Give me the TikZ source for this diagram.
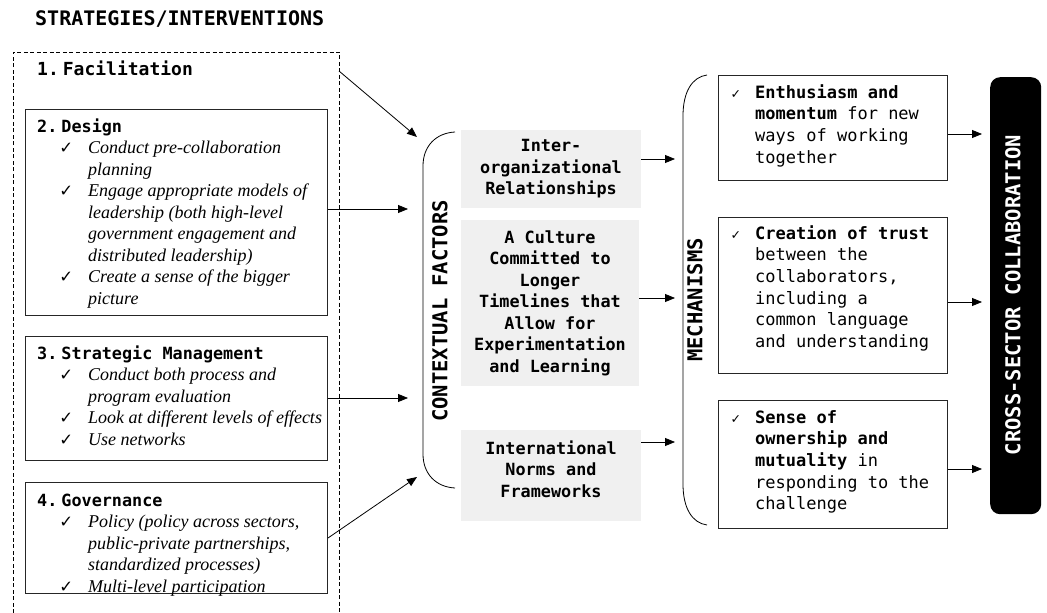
\documentclass[tikz,border=0pt]{standalone}
\usepackage{fontspec}
\setmainfont{Liberation Serif}
\newfontfamily\mono{DejaVu Sans Mono}
\newfontfamily\symf{DejaVu Sans}
\usetikzlibrary{arrows.meta}

% check marks
\newcommand\bigck{{\symf\fontsize{16.5}{16.5}\selectfont ✓}}
\newcommand\smallck{{\symf\fontsize{12.5}{12.5}\selectfont ✓}}
% headings and items in the strategy boxes
\newcommand\lhead[1]{{\mono\bfseries\fontsize{16.8}{21.5}\selectfont #1\par}}
\newcommand\litem[1]{{\fontsize{18}{21.5}\selectfont\leftskip=51pt\noindent\llap{\bigck\hspace{15pt}}\itshape #1\par}}

\tikzset{
  box/.style={draw=black!85, line width=1pt, inner sep=0pt},
  greybox/.style={fill=black!6, inner sep=0pt},
  txt/.style={inner sep=0pt, anchor=base west},
  monob/.style={font=\mono\bfseries\fontsize{16.8}{21.5}\selectfont, align=center, inner sep=0pt},
  vlabel/.style={rotate=90, inner sep=0pt, font=\mono\bfseries\fontsize{20.5}{20.5}\selectfont},
  arr/.style={line width=0.8pt, -{Triangle[length=10pt,width=8pt]}},
}

\begin{document}
\begin{tikzpicture}[x=1pt,y=-1pt]
\useasboundingbox (0,0) rectangle (1047,613);

% title
\node[txt, font=\mono\bfseries\fontsize{20}{20}\selectfont] (title) at (35,25) {STRATEGIES/INTERVENTIONS};

% dashed frame around the strategies
\draw[line width=0.8pt, dash pattern=on 4pt off 2.5pt] (13,613) -- (13,52) -- (339,52) -- (339,613);
\coordinate (facout) at (339,71);

% 1. Facilitation
\node[txt, font=\mono\bfseries\fontsize{18}{18}\selectfont] (fac) at (37,75) {1.\hspace{4pt}Facilitation};

% 2. Design
\node[box, minimum width=302pt, minimum height=206pt, anchor=north west] (design) at (25,109) {};
\node[txt] (designtxt) at (37,132) {\parbox[t]{285pt}{\raggedright\parskip=0pt
  \lhead{2.\hspace{4pt}Design}
  \litem{Conduct pre-collaboration\\planning}
  \litem{Engage appropriate models of\\leadership (both high-level\\government engagement and\\distributed leadership)}
  \litem{Create a sense of the bigger\\picture}}};

% 3. Strategic Management
\node[box, minimum width=302pt, minimum height=124pt, anchor=north west] (strat) at (25,336) {};
\node[txt] (strattxt) at (37,359) {\parbox[t]{285pt}{\raggedright\parskip=0pt
  \lhead{3.\hspace{4pt}Strategic Management}
  \litem{Conduct both process and\\program evaluation}
  \litem{Look at different levels of effects}
  \litem{Use networks}}};

% 4. Governance
\node[box, minimum width=302pt, minimum height=111pt, anchor=north west] (gov) at (25,482) {};
\node[txt] (govtxt) at (37,506) {\parbox[t]{285pt}{\raggedright\parskip=0pt
  \lhead{4.\hspace{4pt}Governance}
  \litem{Policy (policy across sectors,\\public-private partnerships,\\standardized processes)}
  \litem{Multi-level participation}}};

% contextual factors
\draw[line width=0.8pt] (455,132) .. controls (436,133) and (423,146) .. (423,166) -- (423,454) .. controls (423,474) and (436,487) .. (455,488);
\node[vlabel] (ctx) at (440,311) {CONTEXTUAL\hspace{12pt}FACTORS};
\coordinate (cf1) at (417,137);
\coordinate (cf2) at (408,209);
\coordinate (cf3) at (408,398);
\coordinate (cf4) at (417,477);

\node[greybox, minimum width=180pt, minimum height=78pt, anchor=north west] (inter) at (461,130) {};
\node[monob] (intertxt) at (551,169) {Inter-\\organizational\\Relationships};
\node[greybox, minimum width=178pt, minimum height=166pt, anchor=north west] (cult) at (461,220) {};
\node[monob] (culttxt) at (550,303) {A Culture\\Committed to\\Longer\\Timelines that\\Allow for\\Experimentation\\and Learning};
\node[greybox, minimum width=180pt, minimum height=91pt, anchor=north west] (intl) at (461,430) {};
\node[monob] (intltxt) at (551,469) {International\\Norms and\\Frameworks};

% mechanisms
\draw[line width=0.8pt] (707,75) .. controls (692,77) and (683,92) .. (683,116) -- (683,484) .. controls (683,508) and (692,523) .. (707,525);
\node[vlabel] (mech) at (695,300) {MECHANISMS};
\coordinate (m1) at (675,159);
\coordinate (m2) at (675,298);
\coordinate (m3) at (675,442);

\node[box, minimum width=229pt, minimum height=105pt, anchor=north west] (mb1) at (718,75) {};
\node[txt] (mb1txt) at (755,98) {\parbox[t]{190pt}{\raggedright\mono\fontsize{17}{21.7}\selectfont
  \leavevmode\llap{\smallck\hspace{14pt}}\textbf{Enthusiasm and}\\\textbf{momentum} for new\\ways of working\\together}};
\node[box, minimum width=229pt, minimum height=156pt, anchor=north west] (mb2) at (718,217) {};
\node[txt] (mb2txt) at (755,239) {\parbox[t]{190pt}{\raggedright\mono\fontsize{17}{21.7}\selectfont
  \leavevmode\llap{\smallck\hspace{14pt}}\textbf{Creation of trust}\\between the\\collaborators,\\including a\\common language\\and understanding}};
\node[box, minimum width=229pt, minimum height=128pt, anchor=north west] (mb3) at (718,400) {};
\node[txt] (mb3txt) at (755,423) {\parbox[t]{190pt}{\raggedright\mono\fontsize{17}{21.7}\selectfont
  \leavevmode\llap{\smallck\hspace{14pt}}\textbf{Sense of}\\\textbf{ownership and}\\\textbf{mutuality} in\\responding to the\\challenge}};

% outcome
\node[fill=black, rounded corners=10pt, minimum width=51pt, minimum height=437pt, anchor=north west, inner sep=0pt] (csc) at (990,77) {};
\node[vlabel, text=white] (csctxt) at (1013,295) {CROSS-SECTOR\hspace{12pt}COLLABORATION};
\coordinate (c1) at (982,134);
\coordinate (c2) at (982,302);
\coordinate (c3) at (982,469);

% connectors
\draw[arr] (facout) -- (cf1);
\draw[arr] (design.east |- cf2) -- (cf2);
\draw[arr] (strat.east |- cf3) -- (cf3);
\draw[arr] (gov.east) -- (cf4);
\draw[arr] (inter.east |- m1) -- (m1);
\draw[arr] (cult.east |- m2) -- (m2);
\draw[arr] (intl.east |- m3) -- (m3);
\draw[arr] (mb1.east |- c1) -- (c1);
\draw[arr] (mb2.east |- c2) -- (c2);
\draw[arr] (mb3.east |- c3) -- (c3);
\end{tikzpicture}
\end{document}
